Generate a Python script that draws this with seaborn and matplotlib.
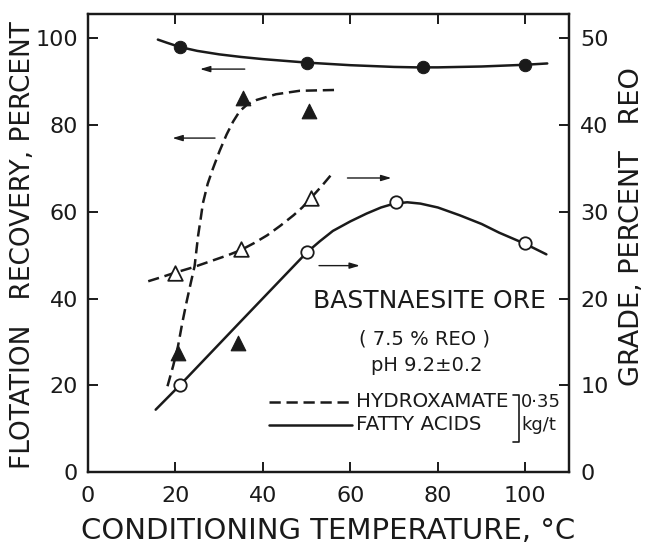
import matplotlib
matplotlib.use("Agg")
import matplotlib.pyplot as plt
import seaborn as sns
import pandas as pd

# ---- data ----
# Recovery (left axis, percent)
fa_rec_x = [21, 50, 76.5, 100]
fa_rec_y = [98.0, 94.3, 93.3, 93.9]
hx_rec_x = [20.5, 35.5, 50.5, 34.3]
hx_rec_y = [27.5, 86.2, 83.2, 29.8]
# Grade (right axis, percent REO)
fa_gr_x = [21, 50, 70.5, 100]
fa_gr_y = [10.0, 25.4, 31.1, 26.4]
hx_gr_x = [20, 35, 51]
hx_gr_y = [23.0, 25.7, 31.6]

# smooth hand-drawn curves (vertices)
fa_rec_cx = [16, 18, 21, 25, 30, 35, 40, 45, 50, 55, 60, 65, 70, 75, 80, 85, 90, 95, 100, 105]
fa_rec_cy = [99.7, 99.0, 98.0, 97.1, 96.3, 95.7, 95.2, 94.8, 94.4, 94.1, 93.8, 93.6, 93.4,
             93.3, 93.3, 93.4, 93.5, 93.7, 93.9, 94.2]
hx_rec_cx = [18.2, 19.5, 20.6, 21.6, 22.6, 23.5, 24.4, 25.2, 25.8, 26.3, 27.4, 28.6, 30.1,
             31.7, 33.2, 34.7, 36.5, 38.6, 43, 48.4, 57]
hx_rec_cy = [19.8, 24.5, 29.0, 34.5, 39.4, 43.5, 47.5, 54.5, 58.5, 62.0, 66.5, 70.0, 74.0,
             77.8, 80.8, 83.2, 84.8, 85.8, 87.1, 87.9, 88.1]
fa_gr_cx = [15.5, 21, 35, 50, 53, 56, 60, 63.7, 67, 70, 73, 76, 80, 85, 90, 94, 100, 104.8]
fa_gr_cy = [7.2, 10.0, 17.4, 25.3, 26.6, 27.8, 28.9, 29.8, 30.5, 30.95, 31.1, 30.95, 30.5,
            29.6, 28.6, 27.6, 26.3, 25.1]
hx_gr_cx = [13.8, 17, 20, 24, 28, 32, 35, 38, 41, 44, 47, 49, 51, 53.5, 56]
hx_gr_cy = [22.0, 22.5, 23.0, 23.6, 24.3, 25.0, 25.6, 26.4, 27.3, 28.4, 29.6, 30.5, 31.6,
            33.0, 34.5]

x_ticks = [0, 20, 40, 60, 80, 100]
left_ticks = [0, 20, 40, 60, 80, 100]
right_ticks = [0, 10, 20, 30, 40, 50]

sns.set_theme(style="ticks")
plt.rcParams['font.family'] = ['DejaVu Sans']

fig = plt.figure(figsize=(6.46, 5.49), dpi=100)
ax = fig.add_axes([0.136, 0.140, 0.745, 0.8345])
ax2 = ax.twinx()

K = "#1a1a1a"
lw = 1.8
dash = (0, (4.5, 2.3))

df = lambda x, y: pd.DataFrame({"x": x, "y": y})

sns.lineplot(data=df(fa_rec_cx, fa_rec_cy), x="x", y="y", ax=ax, color=K, lw=lw, sort=False)
sns.lineplot(data=df(hx_rec_cx, hx_rec_cy), x="x", y="y", ax=ax, color=K, lw=lw, sort=False,
             linestyle=dash)
sns.lineplot(data=df(fa_gr_cx, fa_gr_cy), x="x", y="y", ax=ax2, color=K, lw=lw, sort=False)
sns.lineplot(data=df(hx_gr_cx, hx_gr_cy), x="x", y="y", ax=ax2, color=K, lw=lw, sort=False,
             linestyle=dash)

sns.scatterplot(data=df(fa_rec_x, fa_rec_y), x="x", y="y", ax=ax, marker="o", s=80,
                color=K, edgecolor=K, zorder=5)
sns.scatterplot(data=df(hx_rec_x, hx_rec_y), x="x", y="y", ax=ax, marker="^", s=110,
                color=K, edgecolor=K, zorder=5)
sns.scatterplot(data=df(fa_gr_x, fa_gr_y), x="x", y="y", ax=ax2, marker="o", s=80,
                facecolor="white", edgecolor=K, linewidth=1.3, zorder=5)
sns.scatterplot(data=df(hx_gr_x, hx_gr_y), x="x", y="y", ax=ax2, marker="^", s=110,
                facecolor="white", edgecolor=K, linewidth=1.3, zorder=5)

ax.set_xlim(0, 110)
ax.set_ylim(0, 105.6)
ax2.set_ylim(0, 52.8)
ax.set_xticks(x_ticks)
ax.set_yticks(left_ticks)
ax2.set_yticks(right_ticks)

ax.set_xticklabels([str(v) for v in x_ticks], fontsize=16)
ax.set_yticklabels([str(v) for v in left_ticks], fontsize=16)
ax2.set_yticklabels([str(v) for v in right_ticks], fontsize=16)

for a in (ax, ax2):
    for s in a.spines.values():
        s.set_linewidth(1.6)
        s.set_color(K)
        s.set_visible(True)
ax.tick_params(axis='both', direction='in', length=7, width=1.4, colors=K, top=True, pad=7)
ax.tick_params(axis='x', pad=10)
ax2.tick_params(axis='y', direction='in', length=7, width=1.4, colors=K, pad=8)

ax.set_xlabel("CONDITIONING TEMPERATURE, °C", fontsize=21, color=K, labelpad=8)
ax.set_ylabel("FLOTATION   RECOVERY, PERCENT", fontsize=19, color=K, va="center")
ax.yaxis.set_label_coords(-0.135, 0.496)
ax2.set_ylabel("GRADE, PERCENT   REO", fontsize=19.5, color=K, va="center", rotation=90)
ax2.yaxis.set_label_coords(1.130, 0.537)

# arrows
ap = dict(arrowstyle="-|>,head_length=0.5,head_width=0.15", color=K, lw=1.0)
ax.annotate("", xy=(25, 92.9), xytext=(36.5, 92.9), arrowprops=ap)
ax.annotate("", xy=(18.7, 77.0), xytext=(29.7, 77.0), arrowprops=ap)
ax.annotate("", xy=(70, 67.8), xytext=(58.7, 67.8), arrowprops=ap)
ax.annotate("", xy=(62.8, 47.6), xytext=(52.2, 47.6), arrowprops=ap)

# annotation texts
ax.text(78, 39.4, "BASTNAESITE ORE", fontsize=18, ha="center", va="center", color=K)
ax.text(77, 30.8, "( 7.5 % REO )", fontsize=14, ha="center", va="center", color=K)
ax.text(77.5, 24.5, "pH 9.2±0.2", fontsize=14, ha="center", va="center", color=K)

ax.plot([41.5, 60.3], [16.2, 16.2], color=K, lw=lw, linestyle=dash)
ax.plot([41.5, 60.3], [10.9, 10.9], color=K, lw=lw)
ax.text(61.4, 16.2, "HYDROXAMATE", fontsize=14.3, ha="left", va="center", color=K)
ax.text(61.4, 10.9, "FATTY ACIDS", fontsize=14.3, ha="left", va="center", color=K)
ax.plot([97.2, 98.6, 98.6, 97.2], [17.8, 17.8, 7.0, 7.0], color=K, lw=1.2)
ax.text(99.0, 16.2, "0·35", fontsize=13, ha="left", va="center", color=K)
ax.text(99.0, 10.9, "kg/t", fontsize=13, ha="left", va="center", color=K)

fig.savefig("out.png", dpi=100)
